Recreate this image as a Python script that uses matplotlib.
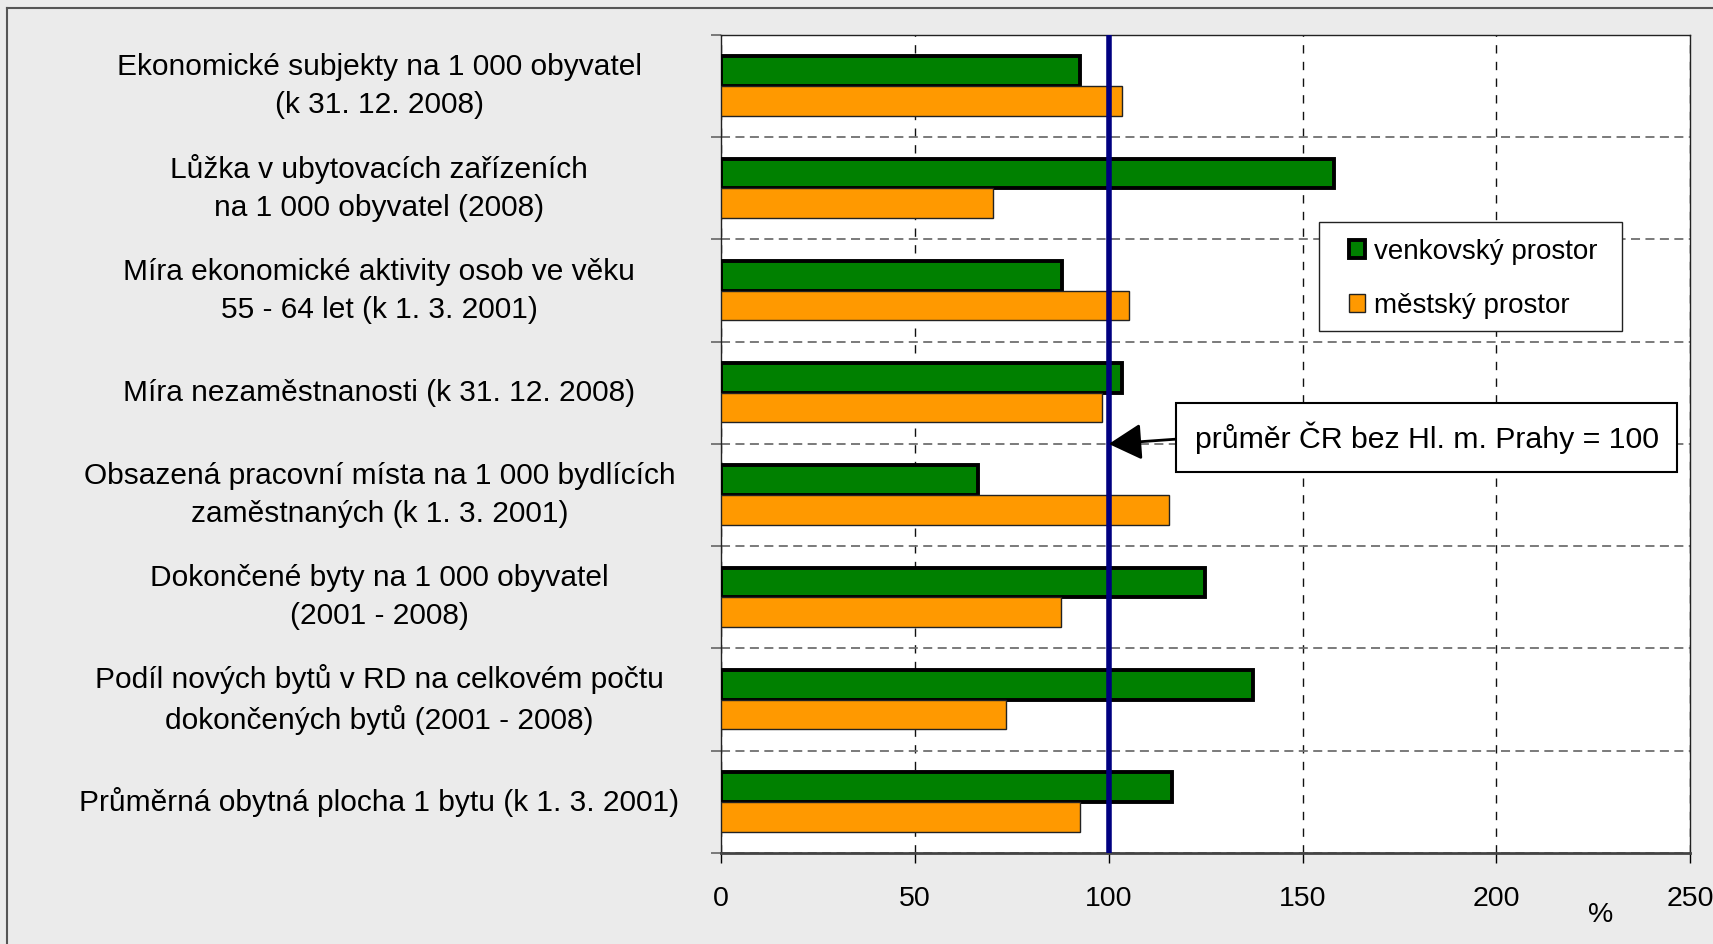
import matplotlib.pyplot as plt
from matplotlib.lines import Line2D
from matplotlib.patches import Rectangle
from matplotlib.transforms import blended_transform_factory

plt.rcParams['font.family'] = ['Liberation Sans', 'DejaVu Sans']

# category labels (top to bottom)
categories = [
    "Ekonomické subjekty na 1 000 obyvatel\n(k 31. 12. 2008)",
    "Lůžka v ubytovacích zařízeních\nna 1 000 obyvatel (2008)",
    "Míra ekonomické aktivity osob ve věku\n55 - 64 let (k 1. 3. 2001)",
    "Míra nezaměstnanosti (k 31. 12. 2008)",
    "Obsazená pracovní místa na 1 000 bydlících\nzaměstnaných (k 1. 3. 2001)",
    "Dokončené byty na 1 000 obyvatel\n(2001 - 2008)",
    "Podíl nových bytů v RD na celkovém počtu\ndokončených bytů (2001 - 2008)",
    "Průměrná obytná plocha 1 bytu (k 1. 3. 2001)",
]
venkov = [92.7, 158.0, 87.9, 103.4, 66.2, 124.8, 137.2, 116.3]
mesto = [103.4, 70.1, 105.1, 98.3, 115.5, 87.6, 73.5, 92.7]
series_names = ["venkovský prostor", "městský prostor"]
xticks = [0, 50, 100, 150, 200, 250]
prumer = 100

fig = plt.figure(figsize=(17.13, 9.44), dpi=100, facecolor='#ebebeb')
ax = fig.add_axes([0.421, 0.0964, 0.5657, 0.8666])
ax.set_facecolor('white')

# figure border (left and top)
fig.add_artist(Line2D([0.004, 0.004], [0.0, 0.991], color='#555555', lw=1.5, transform=fig.transFigure))
fig.add_artist(Line2D([0.004, 1.0], [0.991, 0.991], color='#555555', lw=1.5, transform=fig.transFigure))

ypos = list(range(len(categories)))
h = 0.29
ax.barh([y - h / 2 for y in ypos], venkov, height=h, color='#008000',
        edgecolor='black', linewidth=2.8, zorder=3, label=series_names[0])
ax.barh([y + h / 2 for y in ypos], mesto, height=h, color='#ff9900',
        edgecolor='#222222', linewidth=1.0, zorder=3, label=series_names[1])

ax.axvline(prumer, color='#000080', lw=4, zorder=4)

ax.set_xlim(0, 250)
ax.set_ylim(len(categories) - 0.5, -0.5)
ax.set_xticks(xticks)
ax.set_xticklabels([str(t) for t in xticks], fontsize=20.5)
ax.tick_params(axis='x', direction='out', length=7, width=1, pad=17, colors='black')

ax.set_yticks([])
ax.set_yticks([y - 0.5 for y in range(len(categories) + 1)], minor=True)
ax.tick_params(axis='y', which='minor', direction='out', length=7, width=1.3, color='#707070')
ax.grid(axis='y', which='minor', linestyle=(0, (5, 3)), color='#707070', lw=1.3)
ax.grid(axis='x', which='major', linestyle=(0, (6, 6)), color='#111111', lw=1)
ax.set_axisbelow(True)

for s in ['top', 'left', 'right']:
    ax.spines[s].set_color('#222222')
    ax.spines[s].set_linewidth(1)
ax.spines['bottom'].set_color('#444444')
ax.spines['bottom'].set_linewidth(2)

# category labels
trans = blended_transform_factory(fig.transFigure, ax.transData)
for y, lab in zip(ypos, categories):
    ax.text(0.2215, y, lab, transform=trans, ha='center', va='center',
            fontsize=21.5, multialignment='center', linespacing=1.45)

# legend box drawn separately to get the wide side padding
ax.add_patch(Rectangle((0.617, 0.638), 0.313, 0.1336, transform=ax.transAxes,
                       fc='white', ec='#222222', lw=1, zorder=5))
leg = ax.legend(loc='upper left', bbox_to_anchor=(0.6475, 0.7505), fontsize=20,
                frameon=False, handlelength=0.6, handleheight=0.6, handletextpad=0.3,
                labelspacing=1.0, borderpad=0, borderaxespad=0)
leg.set_zorder(6)

ax.annotate("průměr ČR bez Hl. m. Prahy = 100", xy=(prumer, 3.5), xytext=(182, 3.44),
            ha='center', va='center', fontsize=21.8, zorder=6,
            bbox=dict(boxstyle='square,pad=0.6', fc='white', ec='black', lw=1.5),
            arrowprops=dict(arrowstyle='-|>,head_length=0.45,head_width=0.25', color='black',
                            lw=2, mutation_scale=45, relpos=(0, 0.5), shrinkA=0, shrinkB=0))

fig.text(0.9345, 0.031, "%", fontsize=20.5, ha='center', va='center')

fig.savefig('out.png', dpi=100, facecolor=fig.get_facecolor())
